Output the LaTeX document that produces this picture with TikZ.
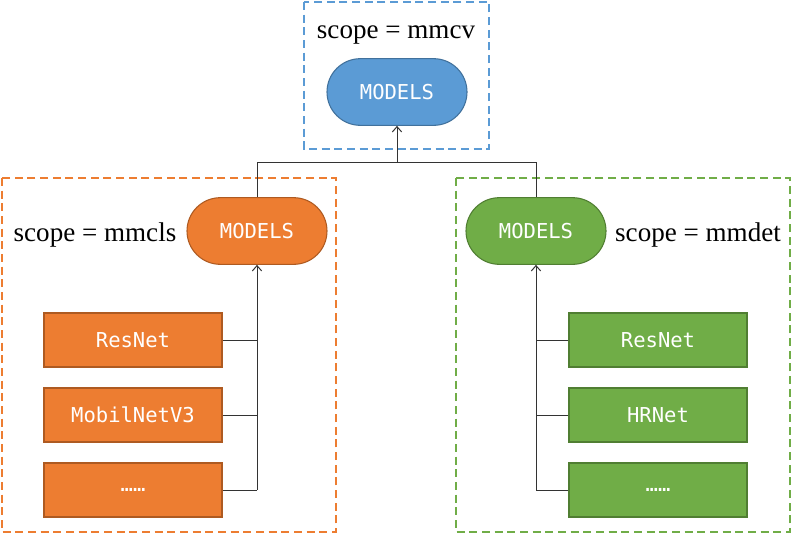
\documentclass[tikz,border=0pt]{standalone}
\usepackage{fontspec}
\setmainfont{Liberation Serif}
\setmonofont{DejaVu Sans Mono}
\usetikzlibrary{shapes.misc,arrows.meta}
\definecolor{bfill}{HTML}{5B9BD5}\definecolor{bdraw}{HTML}{41719C}
\definecolor{ofill}{HTML}{ED7D31}\definecolor{odraw}{HTML}{AE5A21}
\definecolor{gfill}{HTML}{70AD47}\definecolor{gdraw}{HTML}{507E32}
\tikzset{
  frame/.style={dash pattern=on 6pt off 3.5pt, line width=1.3pt},
  models/.style={rounded rectangle, minimum width=105pt, minimum height=50pt, line width=0.8pt, text=white, font=\ttfamily\fontsize{15.4}{18}\selectfont, inner sep=0pt},
  leaf/.style={rectangle, minimum width=133.5pt, minimum height=40pt, line width=1.3pt, text=white, font=\ttfamily\fontsize{15.4}{18}\selectfont, inner sep=0pt},
  lbl/.style={font=\fontsize{20.3}{24}\selectfont, inner sep=0pt, anchor=base},
  conn/.style={line width=0.75pt, draw=black!80},
  arr/.style={conn, -{Straight Barb[length=4pt,width=7pt]}}
}
\begin{document}
\begin{tikzpicture}[x=0.75pt,y=-0.75pt]
\useasboundingbox (0,0) rectangle (793,536);
% frames
\draw[frame, draw=bfill] (304,2) rectangle (489,149);
\draw[frame, draw=ofill] (2,178) rectangle (336,532);
\draw[frame, draw=gfill] (456,178) rectangle (790,532);
% labels
\node[lbl] (lcv) at (396,38) {scope = mmcv};
\node[lbl] (lcls) at (95,241) {scope = mmcls};
\node[lbl] (ldet) at (698,241) {scope = mmdet};
% models nodes
\node[models, fill=bfill, draw=bdraw] (mcv) at (397,92) {MODELS};
\node[models, fill=ofill, draw=odraw] (mcls) at (257,231) {MODELS};
\node[models, fill=gfill, draw=gdraw] (mdet) at (536,231) {MODELS};
% leaves
\node[leaf, fill=ofill, draw=odraw] (o1) at (133,340) {ResNet};
\node[leaf, fill=ofill, draw=odraw] (o2) at (133,415) {MobilNetV3};
\node[leaf, fill=ofill, draw=odraw] (o3) at (133,490) {……};
\node[leaf, fill=gfill, draw=gdraw] (g1) at (658,340) {ResNet};
\node[leaf, fill=gfill, draw=gdraw] (g2) at (658,415) {HRNet};
\node[leaf, fill=gfill, draw=gdraw] (g3) at (658,490) {……};
% junction coordinates
\coordinate (jl) at (257,162);
\coordinate (jr) at (536,162);
\coordinate (jm) at (397,162);
% top connectors
\draw[conn] (mcls.north) -- (jl) -- (jr) -- (mdet.north);
\draw[arr] (jm) -- (mcv.south);
% left tree
\coordinate (ol3) at (257,490);
\draw[arr] (ol3) -- (mcls.south);
\draw[conn] (o1.east) -- (o1.east -| mcls.south);
\draw[conn] (o2.east) -- (o2.east -| mcls.south);
\draw[conn] (o3.east) -- (ol3);
% right tree
\coordinate (gl3) at (536,490);
\draw[arr] (gl3) -- (mdet.south);
\draw[conn] (g1.west) -- (g1.west -| mdet.south);
\draw[conn] (g2.west) -- (g2.west -| mdet.south);
\draw[conn] (g3.west) -- (gl3);
\end{tikzpicture}
\end{document}
